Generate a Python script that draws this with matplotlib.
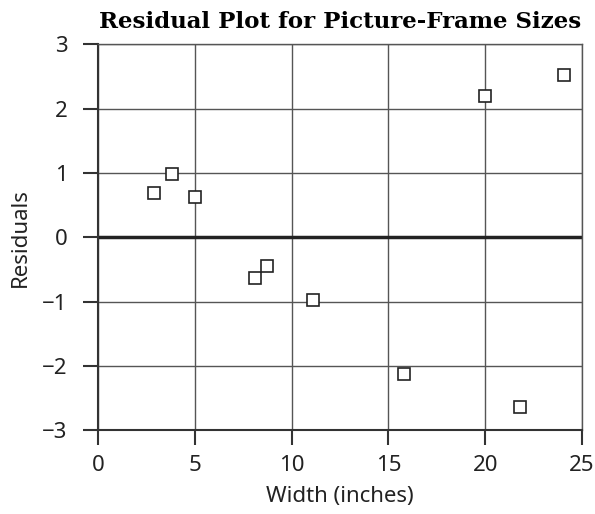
import matplotlib.pyplot as plt

# residual data
width = [2.9, 3.8, 5.0, 8.1, 8.7, 11.1, 15.8, 20.0, 21.8, 24.1]
residual = [0.68, 0.98, 0.62, -0.64, -0.44, -0.98, -2.12, 2.19, -2.64, 2.52]
xticks = [0, 5, 10, 15, 20, 25]
yticks = [-3, -2, -1, 0, 1, 2, 3]

plt.rcParams['font.family'] = ['Noto Sans', 'DejaVu Sans']

fig = plt.figure(figsize=(5.95, 5.14), dpi=100)
ax = fig.add_axes([0.165, 0.163, 0.813, 0.751])

ax.set_xlim(0, 25)
ax.set_ylim(-3, 3)
ax.set_xticks(xticks)
ax.set_yticks(yticks)
ax.set_yticklabels(['\u22123', '\u22122', '\u22121', '0', '1', '2', '3'])
ax.grid(True, color='#555555', linewidth=1.0)
ax.axhline(0, color='#222222', linewidth=2.5, zorder=2)

ax.plot(width, residual, linestyle='none', marker='s', markersize=8.5,
        markerfacecolor='white', markeredgecolor='#222222', markeredgewidth=1.2, zorder=3)

for s in ['left', 'bottom']:
    ax.spines[s].set_color('#333333')
    ax.spines[s].set_linewidth(1.5)
for s in ['top', 'right']:
    ax.spines[s].set_color('#555555')
    ax.spines[s].set_linewidth(1.0)

ax.tick_params(direction='out', length=11, width=1.5, color='#333333',
               labelsize=16, labelcolor='#222222')
ax.tick_params(axis='x', pad=7)
ax.tick_params(axis='y', pad=11)
ax.set_xlabel('Width (inches)', fontsize=16, labelpad=7, color='#222222')
ax.set_ylabel('Residuals', fontsize=16, labelpad=8, color='#222222')
ax.set_title('Residual Plot for Picture-Frame Sizes', fontsize=16.5, fontweight='bold',
             family=['DejaVu Serif'], pad=12)

fig.savefig('out.png', dpi=100)
